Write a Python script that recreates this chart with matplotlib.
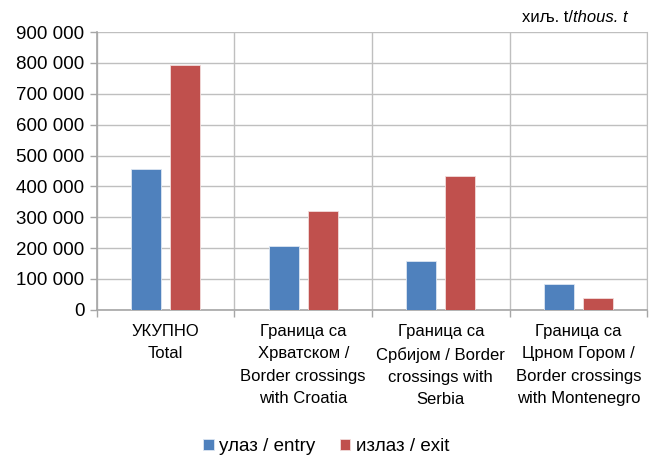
import numpy as np
import matplotlib.pyplot as plt
from matplotlib.ticker import FuncFormatter

plt.rcParams['font.family'] = ['Liberation Sans Narrow', 'Liberation Sans', 'DejaVu Sans']

categories = [
    "УКУПНО\nTotal",
    "Граница са\nХрватском /\nBorder crossings\nwith Croatia",
    "Граница са\nСрбијом / Border\ncrossings with\nSerbia",
    "Граница са\nЦрном Гором /\nBorder crossings\nwith Montenegro",
]
entry = [455000, 206000, 159000, 85000]
exit_ = [794000, 320000, 433000, 37000]
series_names = ["улаз / entry", "излаз / exit"]
colors = ["#4F81BD", "#C0504D"]

fig = plt.figure(figsize=(6.59, 4.59), dpi=100)
ax = fig.add_axes([0.147, 0.325, 0.835, 0.605])

x = np.arange(len(categories))
w = 0.22
ax.bar(x - 0.142, entry, w, color=colors[0], edgecolor="#DCE6F2", linewidth=0.6,
       label=series_names[0], zorder=3)
ax.bar(x + 0.142, exit_, w, color=colors[1], edgecolor="#F2DCDB", linewidth=0.6,
       label=series_names[1], zorder=3)

ax.set_xlim(-0.5, len(categories) - 0.5)
ax.set_ylim(0, 900000)
ax.set_yticks(np.arange(0, 900001, 100000))
ax.yaxis.set_major_formatter(FuncFormatter(lambda v, p: f"{int(v):,}".replace(",", " ")))

# category boundaries as ticks / vertical grid
ax.set_xticks(np.arange(-0.5, len(categories), 1.0))
ax.set_xticklabels([])
ax.set_xticks(x, minor=True)
ax.set_xticklabels(categories, minor=True, fontsize=12, linespacing=1.62)
ax.tick_params(axis="x", which="minor", length=0, pad=10)
ax.tick_params(axis="x", which="major", length=5, color="#A6A6A6", width=1)
ax.tick_params(axis="y", length=5, color="#A6A6A6", width=1, labelsize=13.5, pad=4)

ax.grid(True, which="major", color="#BFBFBF", linewidth=1, zorder=0)
ax.spines["top"].set_visible(False)
ax.spines["right"].set_color("#BFBFBF")
for side in ["left", "bottom"]:
    ax.spines[side].set_color("#A6A6A6")
    ax.spines[side].set_linewidth(1.2)

t1 = fig.text(0.953, 0.945, "thous. t", fontsize=12, style="italic", ha="right", va="bottom")
ax.annotate("хиљ. t/", xy=(0, 0), xycoords=t1, ha="right", va="bottom", fontsize=12)

fig.legend(loc="center", bbox_to_anchor=(0.495, 0.027), ncol=2, frameon=False,
           fontsize=13.5, handlelength=0.55, handleheight=0.55, handletextpad=0.3,
           columnspacing=1.3)

fig.savefig("out.png", dpi=100)
